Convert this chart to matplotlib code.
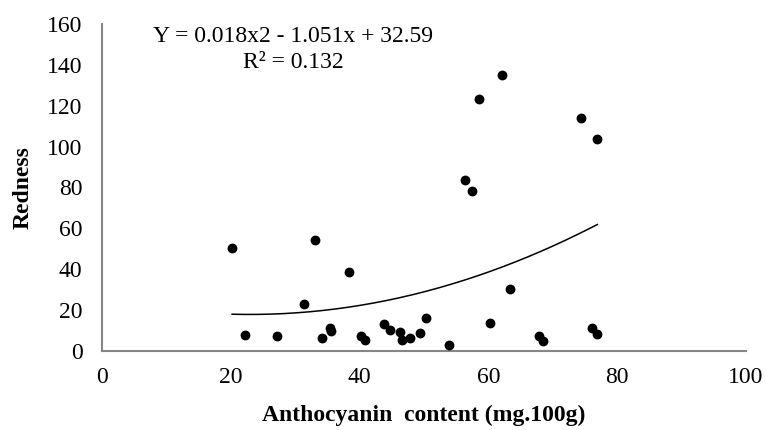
import numpy as np
import matplotlib
matplotlib.use('Agg')
import matplotlib.pyplot as plt

# anthocyanin content vs redness
antocianina = [20.2, 33.0, 38.3, 31.3, 22.2, 27.2, 34.1, 35.4, 35.5, 40.2,
               40.8, 43.8, 44.7, 46.2, 46.6, 47.8, 49.3, 50.3, 53.9, 60.2,
               63.3, 67.9, 68.5, 76.0, 76.9, 62.1, 58.5, 74.4, 76.9, 56.3, 57.5]
vermelhidao = [50.3, 54.3, 38.7, 23.0, 7.7, 7.4, 6.2, 11.3, 9.8, 7.2,
               5.2, 13.1, 10.0, 9.3, 5.1, 6.2, 8.8, 16.0, 2.6, 13.4,
               30.4, 7.0, 4.6, 11.1, 8.0, 135.0, 123.5, 114.2, 103.9, 83.5, 78.3]

eq_linha1 = "Y = 0.018x2 - 1.051x + 32.59"
eq_linha2 = "R² = 0.132"

plt.rcParams['font.family'] = ['Liberation Serif', 'DejaVu Serif']

fig = plt.figure(figsize=(7.66, 4.30), dpi=100)
ax = fig.add_axes([0.1332, 0.1844, 0.974 - 0.1332, 0.944 - 0.1844])

ax.scatter(antocianina, vermelhidao, s=50, color='black', zorder=3, linewidths=0)

# polynomial trendline (order 2) fitted on the points
coef = np.polyfit(antocianina, vermelhidao, 2)
xs = np.linspace(min(antocianina), max(antocianina), 200)
ax.plot(xs, np.polyval(coef, xs), color='black', linewidth=1.1)

ax.set_xlim(0, 100)
ax.set_ylim(0, 160)
ax.set_xticks(range(0, 101, 20))
ax.set_yticks(range(0, 161, 20))

for lado in ['top', 'right']:
    ax.spines[lado].set_visible(False)
for lado in ['left', 'bottom']:
    ax.spines[lado].set_color('#868686')
    ax.spines[lado].set_linewidth(1.5)

ax.tick_params(axis='both', length=0, labelsize=17)
ax.tick_params(axis='y', pad=14)
ax.tick_params(axis='x', pad=12)

ax.set_xlabel('Anthocyanin  content (mg.100g)', fontsize=17, fontweight='bold', labelpad=12)
ax.set_ylabel('Redness', fontsize=17, fontweight='bold', labelpad=10)

fig.text(293 / 766, 1 - 36 / 430, eq_linha1, fontsize=17, ha='center', va='center')
fig.text(293 / 766, 1 - 63 / 430, eq_linha2, fontsize=17, ha='center', va='center')

fig.savefig('out.png', dpi=100)
